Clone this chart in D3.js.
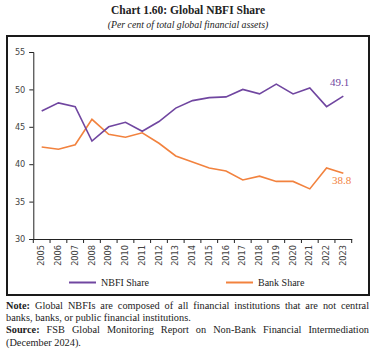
<!DOCTYPE html>
<html>
<head>
<meta charset="utf-8">
<script src="https://cdn.jsdelivr.net/npm/d3@7"></script>
<style>
  body { margin: 0; background: #fff; }
  #wrap { position: relative; width: 377px; height: 354px; }
  .note { position: absolute; left: 6px; width: 363px; font-family: "Liberation Serif", serif; font-size: 10.3px; color: #222; white-space: nowrap; }
  .just { text-align: justify; text-align-last: justify; }
</style>
</head>
<body>
<div id="wrap"></div>
<script>
// data
var years = ["2005","2006","2007","2008","2009","2010","2011","2012","2013","2014",
  "2015","2016","2017","2018","2019","2020","2021","2022","2023"];
var nbfiShare = [47.1, 48.2, 47.7, 43.1, 45.0, 45.6, 44.4, 45.7, 47.5, 48.5,
  48.9, 49.0, 50.0, 49.4, 50.7, 49.4, 50.2, 47.7, 49.1];
var bankShare = [42.3, 42.0, 42.6, 46.0, 44.0, 43.6, 44.2, 42.8, 41.1, 40.3,
  39.5, 39.1, 37.9, 38.4, 37.7, 37.7, 36.7, 39.5, 38.8];
var yTicks = [30, 35, 40, 45, 50, 55];

var width = 377, height = 354;
var purple = "#7046a0", orange = "#f2823e";

var svg = d3.select("#wrap").append("svg").attr("width", width).attr("height", height)
  .style("position", "absolute").style("left", 0).style("top", 0);

// title
svg.append("text").attr("x", 188).attr("y", 14).attr("text-anchor", "middle")
  .attr("font-family", "Liberation Serif, serif").attr("font-weight", "bold").attr("font-size", "11.5px")
  .attr("fill", "#222").text("Chart 1.60: Global NBFI Share");
svg.append("text").attr("x", 188).attr("y", 27.5).attr("text-anchor", "middle")
  .attr("font-family", "Liberation Serif, serif").attr("font-style", "italic").attr("font-size", "9.8px")
  .attr("fill", "#222").text("(Per cent of total global financial assets)");

// box
svg.append("rect").attr("x", 7).attr("y", 36).attr("width", 362).attr("height", 259)
  .attr("fill", "none").attr("stroke", "#1a1a1a").attr("stroke-width", 2);

var x = d3.scaleBand().domain(years).range([33.3, 351.7]);
var y = d3.scaleLinear().domain([30, 55]).range([239, 52]);

var yAxis = svg.append("g").attr("transform", "translate(33.3,0)")
  .call(d3.axisLeft(y).tickValues(yTicks).tickSize(4).tickPadding(4));
var xAxis = svg.append("g").attr("transform", "translate(0,239)")
  .call(d3.axisBottom(x).tickSize(0).tickPadding(0));

// tick marks at band edges
xAxis.selectAll(".edge").data(years.concat(["end"])).join("line").attr("class", "edge")
  .attr("x1", function (d, i) { return x.range()[0] + i * x.step(); })
  .attr("x2", function (d, i) { return x.range()[0] + i * x.step(); })
  .attr("y1", 0).attr("y2", 4).attr("stroke", "#222");

[xAxis, yAxis].forEach(function (g) {
  g.select(".domain").attr("stroke", "#222");
  g.selectAll(".tick line").attr("stroke", "#222");
  g.selectAll("text").attr("font-family", "DejaVu Sans, sans-serif").attr("font-size", "8.2px").attr("fill", "#444");
});
xAxis.selectAll(".tick text").attr("transform", "rotate(-90)").attr("text-anchor", "end")
  .attr("x", -6).attr("y", 0).attr("dy", "0.32em");

var line = d3.line().x(function (d, i) { return x(years[i]) + x.bandwidth() / 2; }).y(function (d) { return y(d); });

svg.append("path").datum(bankShare).attr("d", line).attr("fill", "none")
  .attr("stroke", orange).attr("stroke-width", 1.6);
svg.append("path").datum(nbfiShare).attr("d", line).attr("fill", "none")
  .attr("stroke", purple).attr("stroke-width", 1.6);

var last = years.length - 1;
svg.append("text").attr("x", x(years[last]) - 5).attr("y", y(nbfiShare[last]) - 10)
  .attr("font-family", "Liberation Serif, serif").attr("font-size", "11px").attr("fill", purple)
  .text(nbfiShare[last].toFixed(1));
svg.append("text").attr("x", x(years[last]) - 3).attr("y", y(bankShare[last]) + 11)
  .attr("font-family", "Liberation Serif, serif").attr("font-size", "11px").attr("fill", orange)
  .text(bankShare[last].toFixed(1));

// legend
var legend = [{name: "NBFI Share", color: purple, x: 69}, {name: "Bank Share", color: orange, x: 226}];
legend.forEach(function (l) {
  svg.append("line").attr("x1", l.x).attr("x2", l.x + 27).attr("y1", 282.5).attr("y2", 282.5)
    .attr("stroke", l.color).attr("stroke-width", 2);
  svg.append("text").attr("x", l.x + 32).attr("y", 286)
    .attr("font-family", "Liberation Serif, serif").attr("font-size", "10px").attr("fill", "#222").text(l.name);
});

// notes
var notes = [
  {html: "<b>Note:</b> Global NBFIs are composed of all financial institutions that are not central", just: true},
  {html: "banks, banks, or public financial institutions.", just: false},
  {html: "<b>Source:</b> FSB Global Monitoring Report on Non-Bank Financial Intermediation", just: true},
  {html: "(December 2024).", just: false}
];
notes.forEach(function (n, i) {
  d3.select("#wrap").append("div").attr("class", "note" + (n.just ? " just" : ""))
    .style("top", (299.5 + i * 12.4) + "px").html(n.html);
});
</script>
</body>
</html>
